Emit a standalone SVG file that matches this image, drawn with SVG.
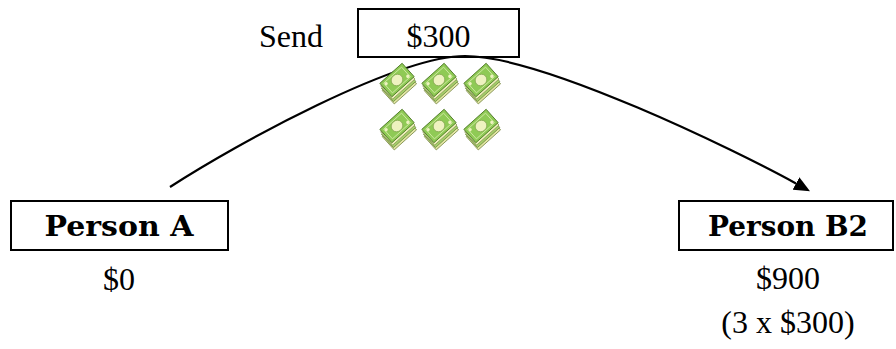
<svg xmlns="http://www.w3.org/2000/svg" xmlns:xlink="http://www.w3.org/1999/xlink" width="896" height="349" viewBox="0 0 896 349">
  <style>
    .box { fill: #ffffff; stroke: #000000; stroke-width: 2; }
    .reg { font-family: "Liberation Serif", "Times New Roman", serif; font-size: 32px; fill: #000000; }
    .bold { font-family: "DejaVu Serif", "Liberation Serif", serif; font-weight: bold; font-size: 27px; fill: #000000; }
    .mid { text-anchor: middle; }
    .edge { fill: none; stroke: #000000; stroke-width: 2.2; }
    .note { fill: #eef2c0; }
  </style>
  <defs>
    <marker id="arrow" markerUnits="userSpaceOnUse" viewBox="0 0 16 14" markerWidth="16" markerHeight="14" refX="0" refY="7" orient="auto">
      <path d="M0,0 L16,7 L0,14 z" fill="#000000"/>
    </marker>
    <g id="cash">
      <g transform="translate(2.4,7.2) rotate(-42)"><rect x="-15" y="-9" width="30" height="18" fill="#e2e6a4" stroke="#7c8a4a" stroke-width="0.8"/></g>
      <g transform="translate(1.6,4.8) rotate(-42)"><rect x="-15" y="-9" width="30" height="18" fill="#a6cf6a" stroke="#6f8d40" stroke-width="0.8"/></g>
      <g transform="translate(0.8,2.4) rotate(-42)"><rect x="-15" y="-9" width="30" height="18" fill="#eef0bc" stroke="#8a9a58" stroke-width="0.8"/></g>
      <g transform="rotate(-42)">
        <rect x="-15" y="-9" width="30" height="18" fill="#8fca55" stroke="#4f7a28" stroke-width="0.9"/>
        <rect x="-12" y="-6.5" width="24" height="13" fill="none" stroke="#d6ecaa" stroke-width="0.8"/>
        <ellipse cx="0" cy="0" rx="6" ry="5.5" class="note" stroke="#7a9a48" stroke-width="0.6"/>
        <circle cx="-10.5" cy="-4.5" r="1.6" class="note"/>
        <circle cx="10.5" cy="4.5" r="1.6" class="note"/>
      </g>
    </g>
  </defs>

  <rect x="0" y="0" width="896" height="349" fill="#ffffff"/>

  <g id="node-send">
    <text class="reg" x="259" y="47">Send</text>
    <rect class="box" x="358" y="9" width="161" height="48"/>
    <text class="reg mid" x="438.5" y="47">$300</text>
  </g>

  <g id="connectors">
    <path class="edge" d="M170,187 C237.7,143 397.3,56 465,56 C542.6,56 735.7,150.3 796,183.5" marker-end="url(#arrow)"/>
  </g>

  <g id="money">
    <use xlink:href="#cash" href="#cash" x="397" y="80"/>
    <use xlink:href="#cash" href="#cash" x="439" y="80"/>
    <use xlink:href="#cash" href="#cash" x="481" y="80"/>
    <use xlink:href="#cash" href="#cash" x="397" y="126"/>
    <use xlink:href="#cash" href="#cash" x="439" y="126"/>
    <use xlink:href="#cash" href="#cash" x="481" y="126"/>
  </g>

  <g id="node-a">
    <rect class="box" x="11" y="201" width="217" height="49"/>
    <text class="bold mid" x="119" y="236" textLength="149" lengthAdjust="spacingAndGlyphs">Person A</text>
    <text class="reg mid" x="119" y="290">$0</text>
  </g>

  <g id="node-b2">
    <rect class="box" x="679" y="201" width="214" height="49"/>
    <text class="bold mid" x="788" y="236" textLength="160" lengthAdjust="spacingAndGlyphs">Person B2</text>
    <text class="reg mid" x="788" y="289">$900</text>
    <text class="reg mid" x="788" y="333">(3 x $300)</text>
  </g>
</svg>
